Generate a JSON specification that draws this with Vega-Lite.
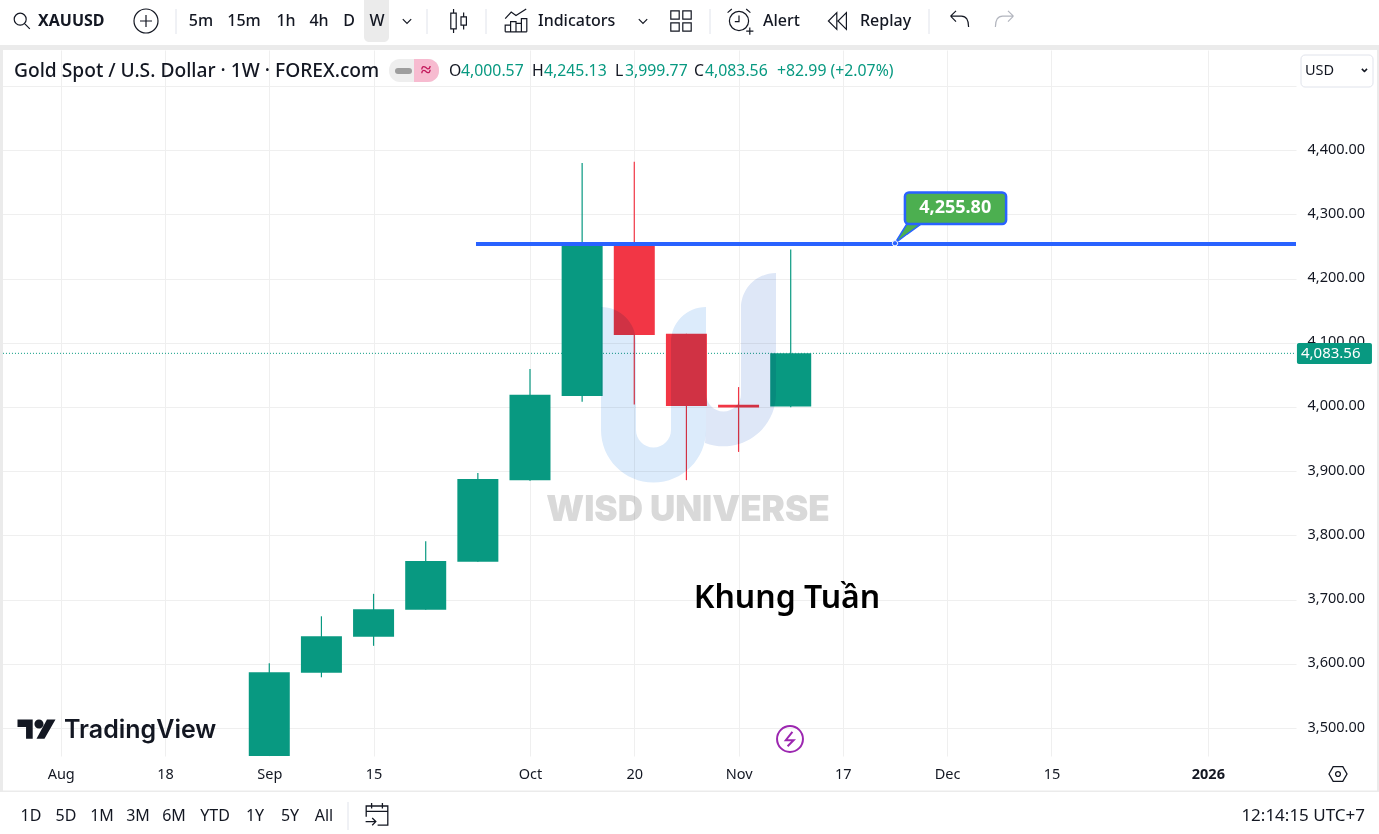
{
  "$schema": "https://vega.github.io/schema/vega-lite/v6.json",
  "background": "white",
  "padding": 0,
  "spacing": 0,
  "bounds": "flush",
  "config": {"view": {"stroke": null}, "font": "Noto Sans"},
  "datasets": {
    "candles": [
      {"date": "2025-09-01", "open": 3447, "high": 3601, "low": 3437, "close": 3587},
      {"date": "2025-09-08", "open": 3586, "high": 3674, "low": 3579, "close": 3643},
      {"date": "2025-09-15", "open": 3642, "high": 3709, "low": 3628, "close": 3685},
      {"date": "2025-09-22", "open": 3684, "high": 3791, "low": 3684, "close": 3760},
      {"date": "2025-09-29", "open": 3759, "high": 3897, "low": 3759, "close": 3888},
      {"date": "2025-10-06", "open": 3886, "high": 4059, "low": 3885, "close": 4019},
      {"date": "2025-10-13", "open": 4017, "high": 4380, "low": 4008, "close": 4252},
      {"date": "2025-10-20", "open": 4253, "high": 4382, "low": 4004, "close": 4112},
      {"date": "2025-10-27", "open": 4114, "high": 4114, "low": 3886, "close": 4001.5},
      {"date": "2025-11-03", "open": 4003.5, "high": 4031, "low": 3930, "close": 3999},
      {"date": "2025-11-10", "open": 4000.57, "high": 4245.13, "low": 3999.77, "close": 4083.56}
    ],
    "topSeparators": [
      {"h": 176, "v": 9, "v2": 34},
      {"h": 427, "v": 9, "v2": 34},
      {"h": 486, "v": 9, "v2": 34},
      {"h": 710, "v": 9, "v2": 34},
      {"h": 929, "v": 9, "v2": 34}
    ],
    "topIcons": [
      {"icon": "search", "h": 22, "v": 21},
      {"icon": "plus", "h": 146, "v": 21},
      {"icon": "chevron", "h": 407, "v": 21},
      {"icon": "candles", "h": 458, "v": 21},
      {"icon": "indicators", "h": 516, "v": 21},
      {"icon": "chevron", "h": 643, "v": 21},
      {"icon": "grid", "h": 681, "v": 21},
      {"icon": "alarm", "h": 739, "v": 21},
      {"icon": "replay", "h": 838, "v": 21},
      {"icon": "undo", "h": 959, "v": 21},
      {"icon": "redo", "h": 1005, "v": 21}
    ],
    "intervals": [
      {"label": "5m", "h": 201, "v": 21},
      {"label": "15m", "h": 244, "v": 21},
      {"label": "1h", "h": 286, "v": 21},
      {"label": "4h", "h": 319, "v": 21},
      {"label": "D", "h": 349, "v": 21},
      {"label": "W", "h": 377, "v": 21}
    ],
    "topLabels": [
      {"label": "Indicators", "h": 538, "v": 21},
      {"label": "Alert", "h": 763, "v": 21},
      {"label": "Replay", "h": 860, "v": 21}
    ],
    "callout": [
      {"date": "2025-11-24T00:00:00Z", "top": 4255, "bottom": 4255},
      {"date": "2025-11-25T14:00:00Z", "top": 4285, "bottom": 4269},
      {"date": "2025-11-27T12:00:00Z", "top": 4285, "bottom": 4285}
    ],
    "ranges": [
      {"label": "1D", "h": 31, "v": 816},
      {"label": "5D", "h": 66, "v": 816},
      {"label": "1M", "h": 102, "v": 816},
      {"label": "3M", "h": 138, "v": 816},
      {"label": "6M", "h": 174, "v": 816},
      {"label": "YTD", "h": 215, "v": 816},
      {"label": "1Y", "h": 255, "v": 816},
      {"label": "5Y", "h": 290, "v": 816},
      {"label": "All", "h": 324, "v": 816}
    ],
    "legendValues": [
      {"label": "O", "kind": "key", "h": 449, "v": 71},
      {"label": "4,000.57", "kind": "value", "h": 461, "v": 71},
      {"label": "H", "kind": "key", "h": 532, "v": 71},
      {"label": "4,245.13", "kind": "value", "h": 544, "v": 71},
      {"label": "L", "kind": "key", "h": 615, "v": 71},
      {"label": "3,999.77", "kind": "value", "h": 625, "v": 71},
      {"label": "C", "kind": "key", "h": 694, "v": 71},
      {"label": "4,083.56", "kind": "value", "h": 705, "v": 71},
      {"label": "+82.99 (+2.07%)", "kind": "value", "h": 777, "v": 71}
    ]
  },
  "vconcat": [
    {
      "width": 1379,
      "height": 50,
      "encoding": {
        "x": {"field": "h", "type": "quantitative", "axis": null, "scale": {"domain": [0, 1379], "nice": false, "zero": false}},
        "y": {"field": "v", "type": "quantitative", "axis": null, "scale": {"domain": [0, 50], "nice": false, "zero": false, "reverse": true}}
      },
      "layer": [
        {
          "data": {"values": [{"h": 0, "h2": 1379, "v": 45, "v2": 50}]},
          "mark": {"type": "rect", "color": "#EBEBEB"},
          "encoding": {"x2": {"field": "h2"}, "y2": {"field": "v2"}}
        },
        {
          "data": {"values": [{"h": 364, "h2": 389, "v": 0, "v2": 42}]},
          "mark": {"type": "rect", "color": "#EBEBEB", "cornerRadiusBottomLeft": 5, "cornerRadiusBottomRight": 5},
          "encoding": {"x2": {"field": "h2"}, "y2": {"field": "v2"}}
        },
        {
          "data": {"name": "topSeparators"},
          "mark": {"type": "rule", "color": "#E0E3EB", "strokeWidth": 1},
          "encoding": {"y2": {"field": "v2"}}
        },
        {
          "data": {"name": "topIcons"},
          "mark": {"type": "point", "filled": false, "strokeWidth": 1.2, "opacity": 1, "size": 576},
          "encoding": {
            "shape": {
              "field": "icon",
              "legend": null,
              "scale": {
                "domain": ["search", "plus", "chevron", "candles", "indicators", "grid", "alarm", "replay", "undo", "redo"],
                "range": [
                  "M0.35,-0.15A0.5,0.5 0 1 1 -0.65,-0.15A0.5,0.5 0 1 1 0.35,-0.15M0.2,0.2L0.65,0.65",
                  "M1,0A1,1 0 1 1 -1,0A1,1 0 1 1 1,0M-0.5,0L0.5,0M0,-0.5L0,0.5",
                  "M-0.35,-0.15L0,0.2L0.35,-0.15",
                  "M-0.6,-0.65H-0.15V0.65H-0.6ZM-0.37,-1V-0.65M-0.37,0.65V1M0.25,-0.35H0.7V0.35H0.25ZM0.47,-0.7V-0.35M0.47,0.35V0.7",
                  "M-0.9,-0.2L-0.4,-0.75L0,-0.45L0.85,-1M-0.9,0.9V0.35H-0.45V0.9M-0.45,0.9V0.05H0V0.9M0,0.9V0.2H0.45V0.9M0.45,0.9V-0.2H0.9V0.9M-0.9,0.9H0.9",
                  "M-0.85,-0.85H-0.15V-0.15H-0.85ZM0.15,-0.85H0.85V-0.15H0.15ZM-0.85,0.15H-0.15V0.85H-0.85ZM0.15,0.15H0.85V0.85H0.15Z",
                  "M0.8,0A0.8,0.8 0 1 1 -0.8,0A0.8,0.8 0 1 1 0.8,0M0,-0.45V0.05H-0.35M-0.95,-0.7L-0.6,-1M0.95,-0.7L0.6,-1M0.6,0.85H1.2M0.9,0.55V1.15",
                  "M-0.1,-0.7L-0.8,0L-0.1,0.7ZM0.7,-0.7L0,0L0.7,0.7Z",
                  "M-0.7,-0.4L-0.25,-0.85M-0.7,-0.4L-0.25,0.05M-0.7,-0.4H0.2Q0.8,-0.4 0.8,0.5",
                  "M0.7,-0.4L0.25,-0.85M0.7,-0.4L0.25,0.05M0.7,-0.4H-0.2Q-0.8,-0.4 -0.8,0.5"
                ]
              }
            },
            "stroke": {"condition": {"test": "datum.icon == 'redo'", "value": "#B2B5BE"}, "value": "#131722"}
          }
        },
        {
          "data": {"values": [{"label": "XAUUSD", "h": 38, "v": 21}]},
          "mark": {"type": "text", "align": "left", "baseline": "middle", "fontSize": 16, "fontWeight": "bold", "color": "#131722"},
          "encoding": {"text": {"field": "label"}}
        },
        {
          "data": {"name": "intervals"},
          "mark": {"type": "text", "align": "center", "baseline": "middle", "fontSize": 16, "fontWeight": 500, "color": "#131722"},
          "encoding": {"text": {"field": "label"}}
        },
        {
          "data": {"name": "topLabels"},
          "mark": {"type": "text", "align": "left", "baseline": "middle", "fontSize": 16, "fontWeight": 500, "color": "#131722"},
          "encoding": {"text": {"field": "label"}}
        }
      ]
    },
    {
      "width": 1296,
      "height": 706,
      "encoding": {
        "x": {
          "field": "date",
          "type": "temporal",
          "title": null,
          "scale": {"type": "utc", "domain": ["2025-07-26T20:24:00Z", "2026-01-16T20:00:00Z"], "padding": 0},
          "axis": {
            "values": ["2025-08-04T00:00:00Z", "2025-08-18T00:00:00Z", "2025-09-01T00:00:00Z", "2025-09-15T00:00:00Z", "2025-10-06T00:00:00Z", "2025-10-20T00:00:00Z", "2025-11-03T00:00:00Z", "2025-11-17T00:00:00Z", "2025-12-01T00:00:00Z", "2025-12-15T00:00:00Z", "2026-01-05T00:00:00Z"],
            "labelExpr": "utcmonth(datum.value) == 0 ? '2026' : utcdate(datum.value) <= 7 ? utcFormat(datum.value, '%b') : utcFormat(datum.value, '%-d')",
            "labelFontWeight": {"condition": {"test": "utcmonth(datum.value) == 0", "value": "bold"}, "value": "normal"},
            "grid": true,
            "gridColor": "#EFEFEF",
            "domain": false,
            "ticks": false,
            "labelFontSize": 14.5,
            "labelColor": "#131722",
            "labelPadding": 11,
            "labelFlush": false,
            "labelOverlap": false
          }
        },
        "y": {
          "field": "price",
          "type": "quantitative",
          "title": null,
          "scale": {"domain": [3456.4, 4556], "nice": false, "zero": false},
          "axis": {
            "orient": "right",
            "values": [3500, 3600, 3700, 3800, 3900, 4000, 4100, 4200, 4300, 4400, 4500],
            "labelExpr": "datum.value == 4500 ? '' : format(datum.value, ',.2f')",
            "grid": true,
            "gridColor": "#EFEFEF",
            "domain": false,
            "ticks": false,
            "labelFontSize": 14.5,
            "labelColor": "#131722",
            "labelPadding": 11,
            "labelOffset": -1,
            "labelOverlap": false
          }
        }
      },
      "layer": [
        {
          "data": {"values": [{"date": "2025-07-27T06:00:00Z", "price": 4083.56}, {"date": "2026-01-16T20:00:00Z", "price": 4083.56}]},
          "mark": {"type": "line", "color": "#089981", "strokeWidth": 1, "strokeDash": [1, 2]}
        },
        {
          "data": {"name": "candles"},
          "mark": {"type": "rule", "strokeWidth": 1.2, "clip": true},
          "encoding": {
            "y": {"field": "low", "type": "quantitative"},
            "y2": {"field": "high"},
            "color": {"condition": {"test": "datum.close >= datum.open", "value": "#089981"}, "value": "#F23645"}
          }
        },
        {
          "data": {"name": "candles"},
          "mark": {"type": "bar", "size": 41, "clip": true},
          "encoding": {
            "y": {"field": "open", "type": "quantitative"},
            "y2": {"field": "close"},
            "color": {"condition": {"test": "datum.close >= datum.open", "value": "#089981"}, "value": "#F23645"}
          }
        },
        {
          "data": {"values": [{"date": "2025-09-28T18:00:00Z", "price": 4254}, {"date": "2026-01-16T20:00:00Z", "price": 4254}]},
          "mark": {"type": "line", "color": "#2962FF", "strokeWidth": 4}
        },
        {
          "data": {"name": "callout"},
          "mark": {"type": "area", "color": "#4CAF50", "stroke": "#2962FF", "strokeWidth": 1.5},
          "encoding": {
            "y": {"field": "top", "type": "quantitative"},
            "y2": {"field": "bottom"}
          }
        },
        {
          "data": {"values": [{"date": "2025-11-25T08:00:00Z", "end": "2025-12-08T22:00:00Z", "price": 4334, "price2": 4285}]},
          "mark": {"type": "rect", "color": "#4CAF50", "stroke": "#2962FF", "strokeWidth": 2.5, "cornerRadius": 4},
          "encoding": {"x2": {"field": "end"}, "y2": {"field": "price2"}}
        },
        {
          "data": {"values": [{"date": "2025-11-24T00:00:00Z", "price": 4255}]},
          "mark": {"type": "point", "filled": true, "size": 28, "color": "#2962FF", "stroke": "white", "strokeWidth": 1, "opacity": 1}
        },
        {
          "data": {"values": [{"date": "2025-12-02T02:00:00Z", "price": 4310, "label": "4,255.80"}]},
          "mark": {"type": "text", "align": "center", "baseline": "middle", "fontSize": 18, "fontWeight": "bold", "color": "white"},
          "encoding": {"text": {"field": "label"}}
        },
        {
          "data": {"values": [{"date": "2026-01-16T23:00:00Z", "end": "2026-01-27T00:45:00Z", "price": 4099.7, "price2": 4067}]},
          "mark": {"type": "rect", "color": "#089981", "cornerRadius": 2},
          "encoding": {"x2": {"field": "end"}, "y2": {"field": "price2"}}
        },
        {
          "data": {"values": [{"date": "2026-01-21T12:00:00Z", "price": 4083.56, "label": "4,083.56"}]},
          "mark": {"type": "text", "align": "center", "baseline": "middle", "fontSize": 15, "color": "white"},
          "encoding": {"text": {"field": "label"}}
        },
        {
          "data": {"values": [{"date": "2025-11-09T12:00:00Z", "price": 3702, "label": "Khung Tuần"}]},
          "mark": {"type": "text", "align": "center", "baseline": "middle", "fontSize": 32, "fontWeight": 600, "color": "black"},
          "encoding": {"text": {"field": "label"}}
        }
      ]
    },
    {
      "width": 1379,
      "height": 78,
      "encoding": {
        "x": {"field": "h", "type": "quantitative", "axis": null, "scale": {"domain": [0, 1379], "nice": false, "zero": false}},
        "y": {"field": "v", "type": "quantitative", "axis": null, "scale": {"domain": [756, 834], "nice": false, "zero": false, "reverse": true}}
      },
      "layer": [
        {
          "data": {"values": [
            {"h": 0, "h2": 3, "v": 50, "v2": 791},
            {"h": 1377, "h2": 1379, "v": 50, "v2": 791},
            {"h": 0, "h2": 1379, "v": 790.5, "v2": 792}
          ]},
          "mark": {"type": "rect", "color": "#EBEBEB"},
          "encoding": {"x2": {"field": "h2"}, "y2": {"field": "v2"}}
        },
        {
          "data": {"values": [{"h": 1301, "h2": 1373, "v": 55, "v2": 87}]},
          "mark": {"type": "rect", "color": "white", "stroke": "#E0E3EB", "strokeWidth": 1, "cornerRadius": 4},
          "encoding": {"x2": {"field": "h2"}, "y2": {"field": "v2"}}
        },
        {
          "data": {"values": [{"h": 389, "h2": 439, "v": 59, "v2": 82}]},
          "mark": {"type": "rect", "color": "#EEEEEE", "cornerRadius": 11},
          "encoding": {"x2": {"field": "h2"}, "y2": {"field": "v2"}}
        },
        {
          "data": {"values": [{"h": 414, "h2": 439, "v": 59, "v2": 82}]},
          "mark": {"type": "rect", "color": "#F7BBD0", "cornerRadiusTopRight": 11, "cornerRadiusBottomRight": 11},
          "encoding": {"x2": {"field": "h2"}, "y2": {"field": "v2"}}
        },
        {
          "data": {"values": [{"h": 398, "h2": 409, "v": 71}]},
          "mark": {"type": "rule", "color": "#9E9E9E", "strokeWidth": 6, "strokeCap": "round"},
          "encoding": {"x2": {"field": "h2"}}
        },
        {
          "data": {"values": [{"label": "≈", "h": 426, "v": 70}]},
          "mark": {"type": "text", "align": "center", "baseline": "middle", "fontSize": 19, "fontWeight": "bold", "color": "#C2185B"},
          "encoding": {"text": {"field": "label"}}
        },
        {
          "data": {"values": [{"h": 688, "v": 380}]},
          "mark": {
            "type": "point",
            "filled": true,
            "size": 40000,
            "opacity": 1,
            "blend": "multiply",
            "color": "#DCEBFB",
            "shape": "M-0.87,-0.73A0.35,0.35 0 0 1 -0.52,-0.38V0.5A0.175,0.175 0 0 0 -0.17,0.5V-0.38A0.35,0.35 0 0 1 0.18,-0.73V0.5A0.525,0.525 0 0 1 -0.87,0.5Z"
          }
        },
        {
          "data": {"values": [{"h": 688, "v": 380}]},
          "mark": {
            "type": "point",
            "filled": true,
            "size": 40000,
            "opacity": 1,
            "blend": "multiply",
            "color": "#DEE7F7",
            "shape": "M0.18,0.14A0.175,0.175 0 0 0 0.53,0.14V-0.72A0.35,0.35 0 0 1 0.88,-1.07V0.14A0.525,0.525 0 0 1 0.17,0.63L0.18,0.5Z"
          }
        },
        {
          "data": {"values": [{"label": "WISD UNIVERSE", "h": 688, "v": 510}]},
          "mark": {"type": "text", "align": "center", "baseline": "middle", "font": "Inter", "fontSize": 35, "fontWeight": 900, "color": "#D9D9D9", "blend": "multiply"},
          "encoding": {"text": {"field": "label"}}
        },
        {
          "data": {"values": [{"h": 36.5, "v": 729.3}]},
          "mark": {
            "type": "point",
            "filled": true,
            "opacity": 1,
            "color": "#131722",
            "size": 1444,
            "shape": "M-1,-0.52H-0.2V0.5H-0.55V-0.12H-1ZM0.37,-0.28A0.24,0.24 0 1 1 -0.11,-0.28A0.24,0.24 0 1 1 0.37,-0.28ZM0.55,-0.52H1L0.42,0.5H0Z"
          }
        },
        {
          "data": {"values": [{"label": "TradingView", "h": 64, "v": 730}]},
          "mark": {"type": "text", "align": "left", "baseline": "middle", "font": "Inter", "fontSize": 25, "fontWeight": 600, "color": "#131722"},
          "encoding": {"text": {"field": "label"}}
        },
        {
          "data": {"values": [{"h": 790, "v": 739}]},
          "mark": {
            "type": "point",
            "filled": false,
            "strokeWidth": 2,
            "opacity": 1,
            "size": 576,
            "color": "#9C27B0",
            "shape": "M1.08,0A1.08,1.08 0 1 1 -1.08,0A1.08,1.08 0 1 1 1.08,0M0.2,-0.6L-0.35,0.1H0.3L-0.2,0.6"
          }
        },
        {
          "data": {"values": [{"h": 1338, "v": 774}]},
          "mark": {
            "type": "point",
            "filled": false,
            "strokeWidth": 1.3,
            "opacity": 1,
            "size": 576,
            "color": "#131722",
            "shape": "M-0.75,0L-0.4,-0.62H0.4L0.75,0L0.4,0.62H-0.4ZM0.2,0A0.2,0.2 0 1 1 -0.2,0A0.2,0.2 0 1 1 0.2,0"
          }
        },
        {
          "data": {"values": [{"h": 377, "v": 815}]},
          "mark": {
            "type": "point",
            "filled": false,
            "strokeWidth": 1.3,
            "opacity": 1,
            "size": 576,
            "color": "#131722",
            "shape": "M-0.9,0.15V-0.75H0.9V0.85H0.05M-0.9,-0.3H0.9M-0.45,-1V-0.55M0.45,-1V-0.55M-0.95,0.55H-0.1M-0.4,0.25L-0.1,0.55L-0.4,0.85"
          }
        },
        {
          "data": {"values": [{"h": 348, "v": 802, "v2": 830}]},
          "mark": {"type": "rule", "color": "#E0E3EB", "strokeWidth": 1},
          "encoding": {"y2": {"field": "v2"}}
        },
        {
          "data": {"values": [{"label": "Gold Spot / U.S. Dollar · 1W · FOREX.com", "h": 14, "v": 71}]},
          "mark": {"type": "text", "align": "left", "baseline": "middle", "fontSize": 19.2, "fontWeight": 500, "color": "#131722"},
          "encoding": {"text": {"field": "label"}}
        },
        {
          "data": {"name": "legendValues"},
          "mark": {"type": "text", "align": "left", "baseline": "middle", "fontSize": 15.8},
          "encoding": {
            "text": {"field": "label"},
            "color": {"field": "kind", "legend": null, "scale": {"domain": ["key", "value"], "range": ["#131722", "#089981"]}}
          }
        },
        {
          "data": {"values": [{"label": "USD", "h": 1305, "v": 71}]},
          "mark": {"type": "text", "align": "left", "baseline": "middle", "fontSize": 14.5, "color": "#131722"},
          "encoding": {"text": {"field": "label"}}
        },
        {
          "data": {"values": [{"label": "⌄", "h": 1364, "v": 68}]},
          "mark": {"type": "text", "align": "center", "baseline": "middle", "fontSize": 13, "fontWeight": "bold", "color": "#131722"},
          "encoding": {"text": {"field": "label"}}
        },
        {
          "data": {"name": "ranges"},
          "mark": {"type": "text", "align": "center", "baseline": "middle", "fontSize": 16, "color": "#131722"},
          "encoding": {"text": {"field": "label"}}
        },
        {
          "data": {"values": [{"label": "12:14:15 UTC+7", "h": 1365, "v": 816}]},
          "mark": {"type": "text", "align": "right", "baseline": "middle", "fontSize": 17, "color": "#131722"},
          "encoding": {"text": {"field": "label"}}
        }
      ]
    }
  ]
}
